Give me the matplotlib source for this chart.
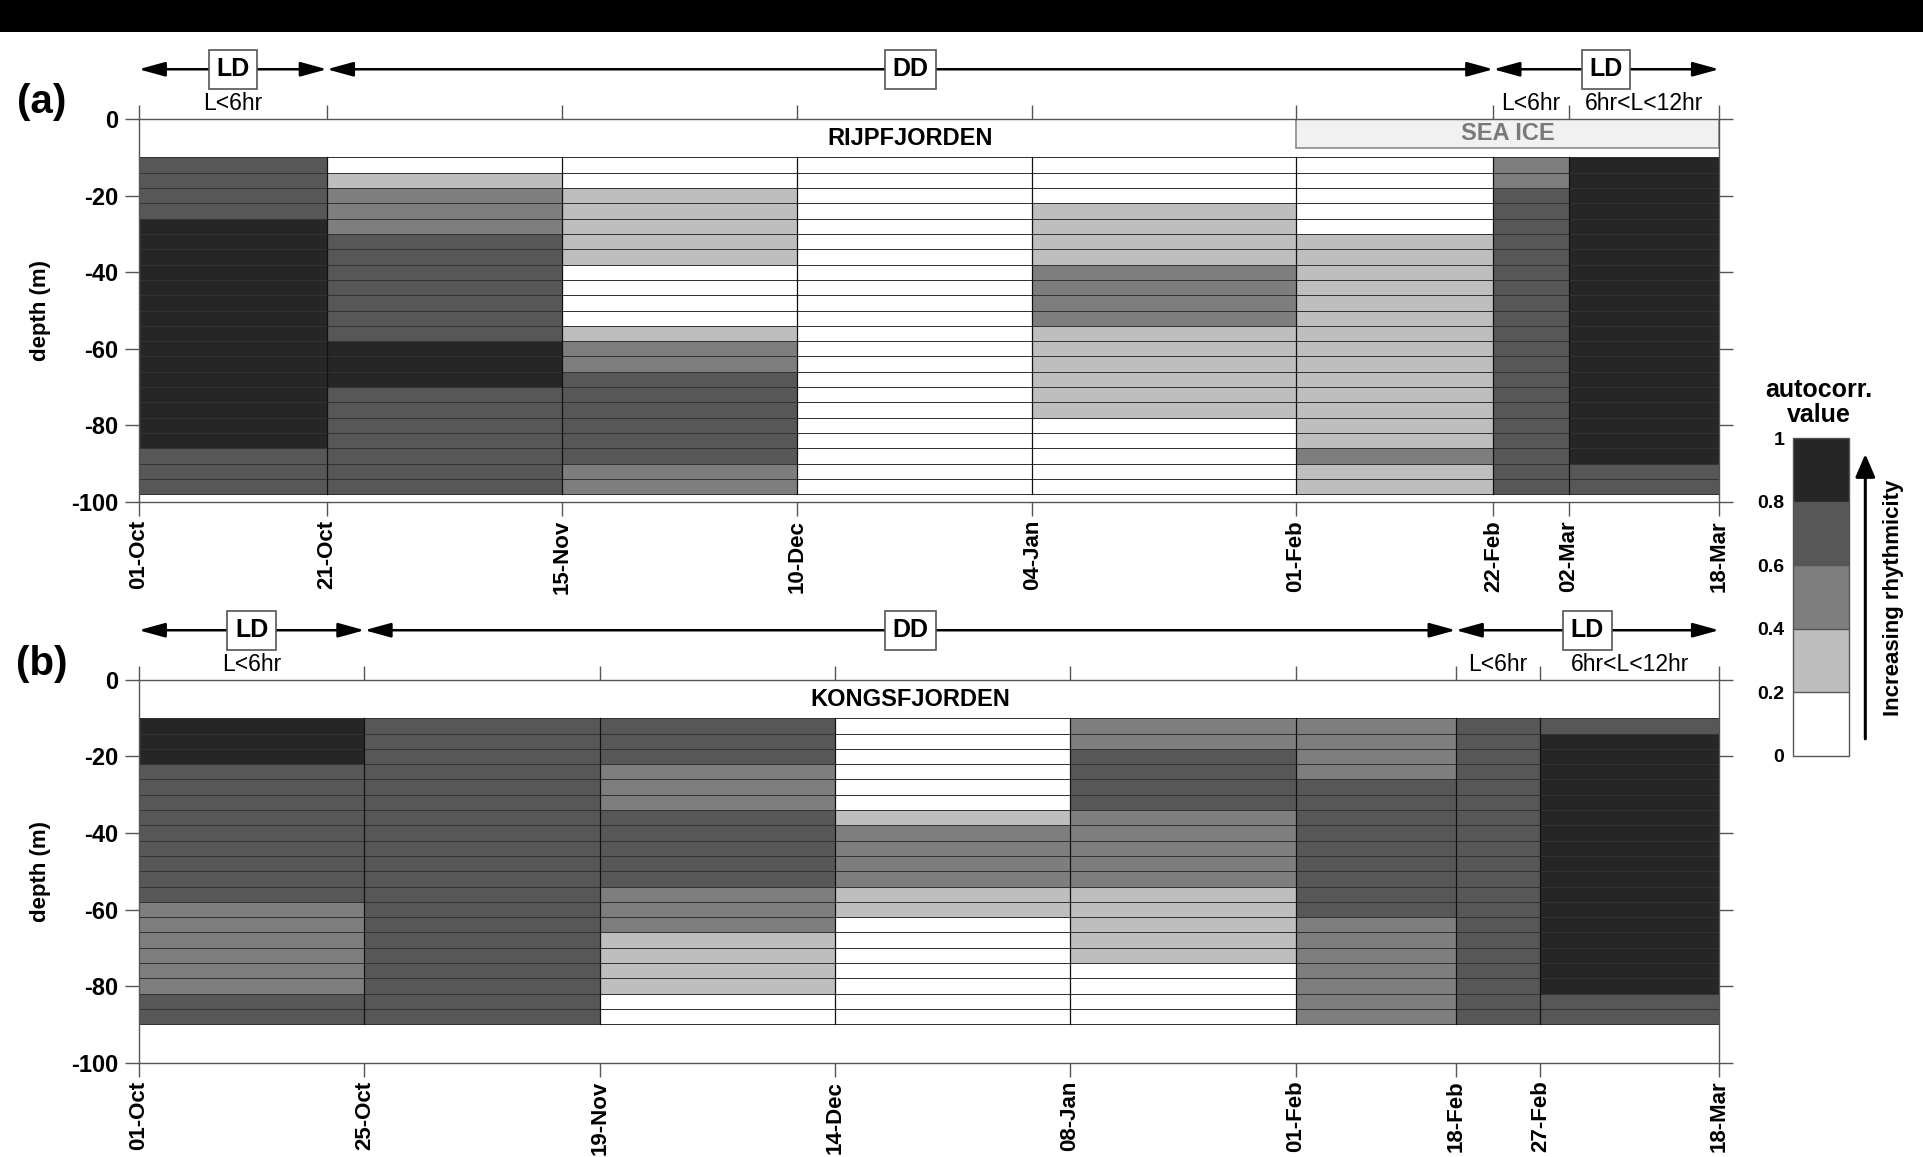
import matplotlib
matplotlib.use('Agg')
import matplotlib.pyplot as plt
import matplotlib.dates as mdates
from matplotlib.colors import ListedColormap, BoundaryNorm
from matplotlib.cm import ScalarMappable
from matplotlib.patches import Rectangle, FancyArrowPatch
import numpy as np
import datetime as dt

plt.rcParams['font.family'] = ['Liberation Sans', 'DejaVu Sans']

# ---------------- data ----------------
# period boundaries (x) for each fjord
rij_dates = ['2006-10-01', '2006-10-21', '2006-11-15', '2006-12-10', '2007-01-04',
             '2007-02-01', '2007-02-22', '2007-03-02', '2007-03-18']
kong_dates = ['2006-10-01', '2006-10-25', '2006-11-19', '2006-12-14', '2007-01-08',
              '2007-02-01', '2007-02-18', '2007-02-27', '2007-03-18']

# depth bin edges (m)
rij_depth_edges = [-10, -14, -18, -22, -26, -30, -34, -38, -42, -46, -50, -54,
                   -58, -62, -66, -70, -74, -78, -82, -86, -90, -94, -98]
kong_depth_edges = [-10, -14, -18, -22, -26, -30, -34, -38, -42, -46, -50, -54,
                    -58, -62, -66, -70, -74, -78, -82, -86, -90]

# autocorrelation class value per depth bin (top -> bottom), one list per period
rij_p1 = [0.7, 0.7, 0.7, 0.7, 0.9, 0.9, 0.9, 0.9, 0.9, 0.9, 0.9, 0.9, 0.9, 0.9, 0.9, 0.9, 0.9, 0.9, 0.9, 0.7, 0.7, 0.7]
rij_p2 = [0.1, 0.3, 0.5, 0.5, 0.5, 0.7, 0.7, 0.7, 0.7, 0.7, 0.7, 0.7, 0.9, 0.9, 0.9, 0.7, 0.7, 0.7, 0.7, 0.7, 0.7, 0.7]
rij_p3 = [0.1, 0.1, 0.3, 0.3, 0.3, 0.3, 0.3, 0.1, 0.1, 0.1, 0.1, 0.3, 0.5, 0.5, 0.7, 0.7, 0.7, 0.7, 0.7, 0.7, 0.5, 0.5]
rij_p4 = [0.1, 0.1, 0.1, 0.1, 0.1, 0.1, 0.1, 0.1, 0.1, 0.1, 0.1, 0.1, 0.1, 0.1, 0.1, 0.1, 0.1, 0.1, 0.1, 0.1, 0.1, 0.1]
rij_p5 = [0.1, 0.1, 0.1, 0.3, 0.3, 0.3, 0.3, 0.5, 0.5, 0.5, 0.5, 0.3, 0.3, 0.3, 0.3, 0.3, 0.3, 0.1, 0.1, 0.1, 0.1, 0.1]
rij_p6 = [0.1, 0.1, 0.1, 0.1, 0.1, 0.3, 0.3, 0.3, 0.3, 0.3, 0.3, 0.3, 0.3, 0.3, 0.3, 0.3, 0.3, 0.3, 0.3, 0.5, 0.3, 0.3]
rij_p7 = [0.5, 0.5, 0.7, 0.7, 0.7, 0.7, 0.7, 0.7, 0.7, 0.7, 0.7, 0.7, 0.7, 0.7, 0.7, 0.7, 0.7, 0.7, 0.7, 0.7, 0.7, 0.7]
rij_p8 = [0.9, 0.9, 0.9, 0.9, 0.9, 0.9, 0.9, 0.9, 0.9, 0.9, 0.9, 0.9, 0.9, 0.9, 0.9, 0.9, 0.9, 0.9, 0.9, 0.9, 0.7, 0.7]

kong_p1 = [0.9, 0.9, 0.9, 0.7, 0.7, 0.7, 0.7, 0.7, 0.7, 0.7, 0.7, 0.7, 0.5, 0.5, 0.5, 0.5, 0.5, 0.5, 0.7, 0.7]
kong_p2 = [0.7, 0.7, 0.7, 0.7, 0.7, 0.7, 0.7, 0.7, 0.7, 0.7, 0.7, 0.7, 0.7, 0.7, 0.7, 0.7, 0.7, 0.7, 0.7, 0.7]
kong_p3 = [0.7, 0.7, 0.7, 0.5, 0.5, 0.5, 0.7, 0.7, 0.7, 0.7, 0.7, 0.5, 0.5, 0.5, 0.3, 0.3, 0.3, 0.3, 0.1, 0.1]
kong_p4 = [0.1, 0.1, 0.1, 0.1, 0.1, 0.1, 0.3, 0.5, 0.5, 0.5, 0.5, 0.3, 0.3, 0.1, 0.1, 0.1, 0.1, 0.1, 0.1, 0.1]
kong_p5 = [0.5, 0.5, 0.7, 0.7, 0.7, 0.7, 0.5, 0.5, 0.5, 0.5, 0.5, 0.3, 0.3, 0.3, 0.3, 0.3, 0.1, 0.1, 0.1, 0.1]
kong_p6 = [0.5, 0.5, 0.5, 0.5, 0.7, 0.7, 0.7, 0.7, 0.7, 0.7, 0.7, 0.7, 0.7, 0.5, 0.5, 0.5, 0.5, 0.5, 0.5, 0.5]
kong_p7 = [0.7, 0.7, 0.7, 0.7, 0.7, 0.7, 0.7, 0.7, 0.7, 0.7, 0.7, 0.7, 0.7, 0.7, 0.7, 0.7, 0.7, 0.7, 0.7, 0.7]
kong_p8 = [0.7, 0.9, 0.9, 0.9, 0.9, 0.9, 0.9, 0.9, 0.9, 0.9, 0.9, 0.9, 0.9, 0.9, 0.9, 0.9, 0.9, 0.9, 0.7, 0.7]

rij_values = [rij_p1, rij_p2, rij_p3, rij_p4, rij_p5, rij_p6, rij_p7, rij_p8]
kong_values = [kong_p1, kong_p2, kong_p3, kong_p4, kong_p5, kong_p6, kong_p7, kong_p8]

# light regime annotations: (start index, end index, label)
rij_regimes = [(0, 1, 'LD'), (1, 6, 'DD'), (6, 8, 'LD')]
kong_regimes = [(0, 1, 'LD'), (1, 6, 'DD'), (6, 8, 'LD')]
rij_daylength = [(0, 1, 'L<6hr'), (6, 7, 'L<6hr'), (7, 8, '6hr<L<12hr')]
kong_daylength = [(0, 1, 'L<6hr'), (6, 7, 'L<6hr'), (7, 8, '6hr<L<12hr')]

class_bounds = [0, 0.2, 0.4, 0.6, 0.8, 1.0]
class_colors = ['#ffffff', '#bebebe', '#7e7e7e', '#575757', '#262626']

# ---------------- figure ----------------
cmap = ListedColormap(class_colors)
norm = BoundaryNorm(class_bounds, cmap.N)

fig = plt.figure(figsize=(19.24, 11.57), dpi=100)
fig.add_artist(Rectangle((0, 0.9723), 1, 0.0277, transform=fig.transFigure,
                         facecolor='black', edgecolor='none'))

ax_a = fig.add_axes([0.0721, 0.5661, 0.8214, 0.3310])
ax_b = fig.add_axes([0.0721, 0.0816, 0.8214, 0.3307])


def to_num(dates):
    return np.array([mdates.date2num(dt.datetime.strptime(d, '%Y-%m-%d')) for d in dates])


def draw_panel(ax, dates, depth_edges, values, regimes, daylength, name, sea_ice=False):
    x = to_num(dates)
    y = np.array(depth_edges, dtype=float)
    C = np.array(values).T
    ax.pcolormesh(x, y, C, cmap=cmap, norm=norm, edgecolors='#333333', linewidth=0.7)
    # vertical period boundaries
    for xv in x[1:-1]:
        ax.plot([xv, xv], [y[0], y[-1]], color='#111111', lw=0.9, zorder=3)
    ax.set_xlim(x[0], x[-1])
    ax.set_ylim(-100, 0)
    yt = [0, -20, -40, -60, -80, -100]
    ax.set_yticks(yt)
    ax.set_yticklabels([str(v) for v in yt], fontweight='bold', fontsize=17)
    ax.set_xticks(x)
    ax.set_xticklabels([mdates.num2date(v).strftime('%d-%b') for v in x],
                       rotation=90, fontweight='bold', fontsize=16)
    ax.tick_params(axis='both', direction='out', length=10, width=1.0, color='#555555',
                   top=True, right=True, labeltop=False, labelright=False)
    ax.tick_params(axis='y', pad=5)
    ax.tick_params(axis='x', pad=3)
    for s in ax.spines.values():
        s.set_color('#555555')
        s.set_linewidth(1.0)
    ax.set_ylabel('depth (m)', fontweight='bold', fontsize=16)
    ax.yaxis.set_label_coords(-0.0555, 0.5)

    # regime arrows and boxes
    for i0, i1, lab in regimes:
        ax.annotate('', xy=(x[i1], 13), xytext=(x[i0], 13), xycoords='data',
                    arrowprops=dict(arrowstyle='<|-|>,head_length=0.8,head_width=0.22',
                                    color='black', lw=1.8, mutation_scale=20,
                                    shrinkA=0, shrinkB=0),
                    annotation_clip=False)
        ax.text((x[i0] + x[i1]) / 2, 13, lab, ha='center', va='center', fontsize=18,
                fontweight='bold', zorder=5, clip_on=False,
                bbox=dict(boxstyle='square,pad=0.3', fc='white', ec='#555555', lw=1.2))
    for i0, i1, lab in daylength:
        ax.text((x[i0] + x[i1]) / 2, 4.0, lab, ha='center', va='center', fontsize=16.5,
                clip_on=False)
    ax.text(x[0] + 82, -5, name, ha='center', va='center', fontsize=17, fontweight='bold')
    if sea_ice:
        ax.add_patch(Rectangle((x[5], -7.6), x[-1] - x[5], 7.6, facecolor='#f1f1f1',
                               edgecolor='#8a8a8a', lw=1.2, zorder=2))
        ax.text((x[5] + x[-1]) / 2, -3.9, 'SEA ICE', ha='center', va='center',
                fontsize=17, fontweight='bold', color='#7a7a7a', zorder=3)


draw_panel(ax_a, rij_dates, rij_depth_edges, rij_values, rij_regimes, rij_daylength,
           'RIJPFJORDEN', sea_ice=True)
draw_panel(ax_b, kong_dates, kong_depth_edges, kong_values, kong_regimes, kong_daylength,
           'KONGSFJORDEN')

fig.text(0.0217, 0.912, '(a)', ha='center', va='center', fontsize=29, fontweight='bold')
fig.text(0.0217, 0.4263, '(b)', ha='center', va='center', fontsize=29, fontweight='bold')

# colorbar
cax = fig.add_axes([0.9317, 0.3466, 0.0293, 0.2748])
cb = fig.colorbar(ScalarMappable(norm=norm, cmap=cmap), cax=cax,
                  ticks=class_bounds, drawedges=True)
cax.yaxis.set_ticks_position('left')
cax.tick_params(length=0, pad=6)
cax.set_yticklabels(['0', '0.2', '0.4', '0.6', '0.8', '1'], fontweight='bold', fontsize=14)
cb.outline.set_edgecolor('#555555')
cb.outline.set_linewidth(1.0)
cb.dividers.set_color('#555555')
cb.dividers.set_linewidth(1.0)

fig.text(0.9455, 0.652, 'autocorr.\nvalue', ha='center', va='center', fontsize=18,
         fontweight='bold', linespacing=1.05)
fig.add_artist(FancyArrowPatch((0.9695, 0.359), (0.9695, 0.610), transform=fig.transFigure,
                               arrowstyle='-|>,head_length=0.7,head_width=0.3',
                               mutation_scale=20, lw=2.2, color='black'))
fig.text(0.984, 0.4835, 'Increasing rhythmicity', rotation=90, ha='center', va='center',
         fontsize=16, fontweight='bold')

fig.savefig('out.png', dpi=100)
